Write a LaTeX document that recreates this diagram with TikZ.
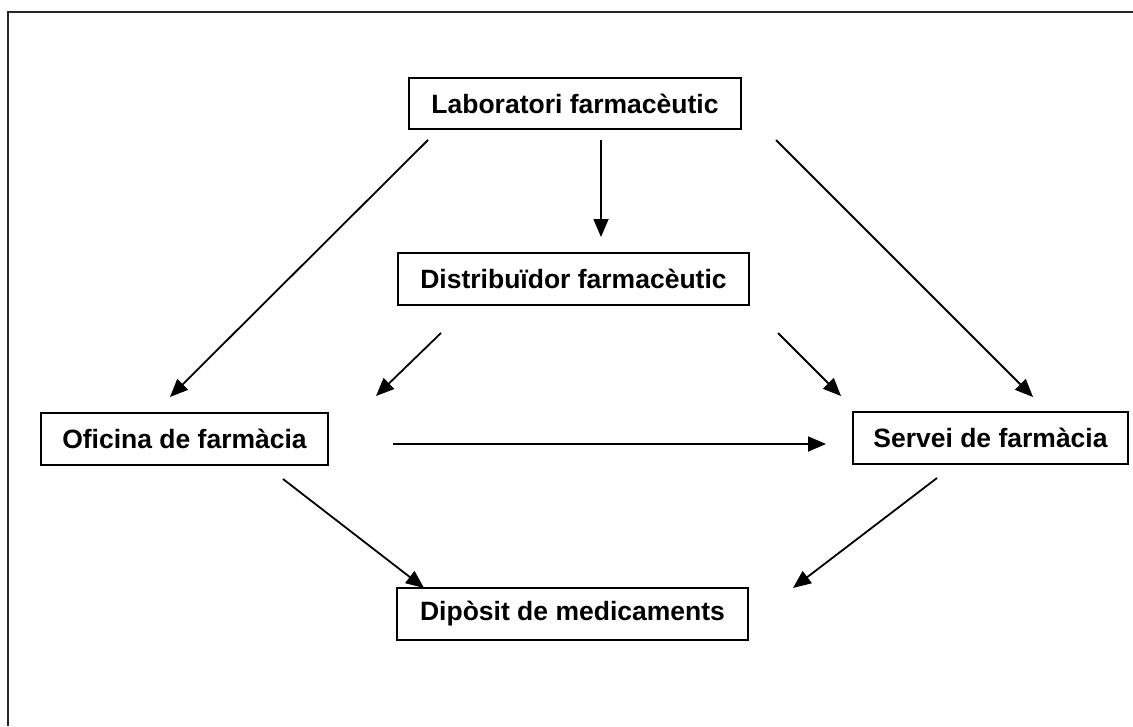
\documentclass[tikz,border=0pt]{standalone}
\usepackage{fontspec}
\setmainfont{Liberation Sans}
\usetikzlibrary{arrows.meta}
\begin{document}
\begin{tikzpicture}[x=1pt,y=-1pt,
  box/.style={draw,line width=2.2pt,inner sep=0pt,align=center,font=\fontsize{26.5}{30}\selectfont\bfseries},
  arr/.style={line width=1.8pt,-{Triangle[length=18pt,width=15pt]}},
  frame/.style={line width=2.2pt,draw=black!85}]
\useasboundingbox (0,0) rectangle (1133,726);
\draw[frame] (8,726) -- (8,12) -- (1133,12);
\node[box,minimum width=332pt,minimum height=51pt] (lab) at (575,103.5) {Laboratori farmacèutic};
\node[box,minimum width=351pt,minimum height=52pt] (dis) at (573.5,279) {Distribuïdor farmacèutic};
\node[box,minimum width=287pt,minimum height=52pt] (ofi) at (184.5,439) {Oficina de farmàcia};
\node[box,minimum width=275pt,minimum height=52pt] (ser) at (990.5,438) {Servei de farmàcia};
\node[box,minimum width=351pt,minimum height=52pt] (dip) at (572.5,614) {Dipòsit de medicaments};
\coordinate (a1s) at (428,140); \coordinate (a1e) at (170,397);
\coordinate (a2s) at (601,140); \coordinate (a2e) at (601,237);
\coordinate (a3s) at (776,140); \coordinate (a3e) at (1033,397);
\coordinate (a4s) at (441,333); \coordinate (a4e) at (376,396);
\coordinate (a5s) at (778,333); \coordinate (a5e) at (841,396);
\coordinate (a6s) at (393,444); \coordinate (a6e) at (826,444);
\coordinate (a7s) at (283,479); \coordinate (a7e) at (424,588);
\coordinate (a8s) at (937,478); \coordinate (a8e) at (793,588);
\draw[arr] (a1s) -- (a1e);
\draw[arr] (a2s) -- (a2e);
\draw[arr] (a3s) -- (a3e);
\draw[arr] (a4s) -- (a4e);
\draw[arr] (a5s) -- (a5e);
\draw[arr] (a6s) -- (a6e);
\draw[arr] (a7s) -- (a7e);
\draw[arr] (a8s) -- (a8e);
\end{tikzpicture}
\end{document}
